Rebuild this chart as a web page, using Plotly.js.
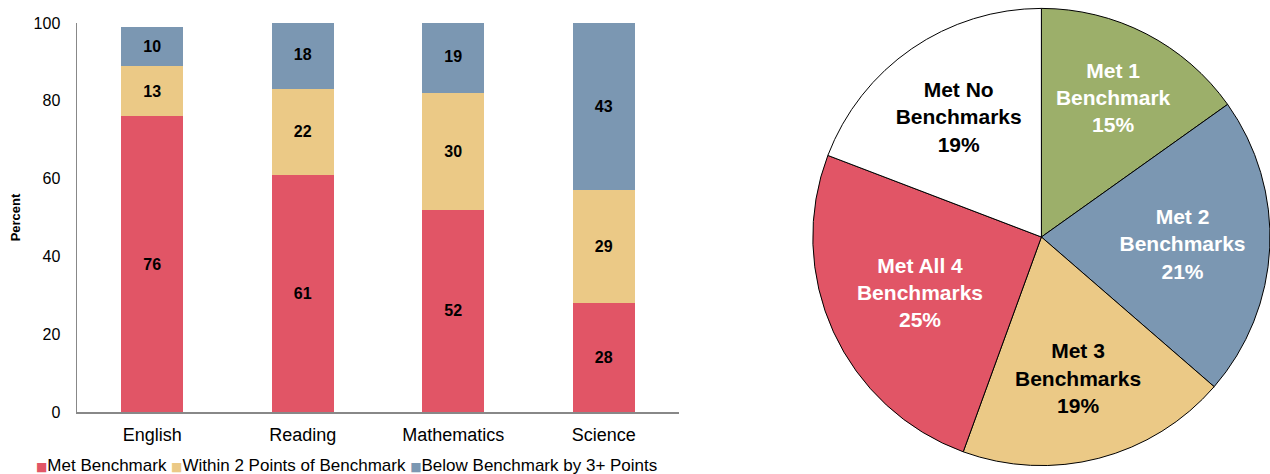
<!DOCTYPE html>
<html><head><meta charset="utf-8">
<script src="https://cdn.plot.ly/plotly-3.0.1.min.js"></script>
<style>html,body{margin:0;padding:0;background:#fff}#chart{width:1270px;height:474px}</style>
</head><body><div id="chart"></div>
<script>
const subjects = ['English', 'Reading', 'Mathematics', 'Science'];
const metBenchmark = [76, 61, 52, 28];
const within2 = [13, 22, 30, 29];
const below3 = [10, 18, 19, 43];
const seriesNames = ['Met Benchmark', 'Within 2 Points of Benchmark', 'Below Benchmark by 3+ Points'];

const pieLabels = ['Met 1<br>Benchmark', 'Met 2<br>Benchmarks', 'Met 3<br>Benchmarks', 'Met All 4<br>Benchmarks', 'Met No<br>Benchmarks'];
const pieValues = [15, 21, 19, 25, 19];

const RED = '#E15566', TAN = '#EBC986', BLUE = '#7B97B2', GREEN = '#9CAF6A';
const seriesColors = [RED, TAN, BLUE];
const FONT = 'Liberation Sans, Arial, Helvetica, sans-serif';

function barTrace(vals, name, color) {
  return {
    type: 'bar', x: subjects, y: vals, name: name,
    marker: {color: color, line: {width: 0}},
    text: vals.map(String), textposition: 'inside', insidetextanchor: 'middle',
    textfont: {family: FONT, size: 16, color: '#000', weight: 'bold'},
    textangle: 0, constraintext: 'none', hoverinfo: 'none', showlegend: false
  };
}

const data = [
  barTrace(metBenchmark, seriesNames[0], RED),
  barTrace(within2, seriesNames[1], TAN),
  barTrace(below3, seriesNames[2], BLUE),
  {
    type: 'pie', values: pieValues, text: pieLabels, textinfo: 'text',
    texttemplate: '%{text}<br>%{value}%',
    sort: false, direction: 'clockwise', rotation: 0,
    marker: {colors: [GREEN, BLUE, TAN, RED, '#FFFFFF'], line: {color: '#000', width: 1}},
    textposition: 'inside', insidetextorientation: 'horizontal',
    textfont: {family: FONT, size: 21, weight: 'bold', color: ['#fff', '#fff', '#000', '#fff', '#000']},
    domain: {x: [0.64, 1], y: [0, 1]},
    showlegend: false, hoverinfo: 'none'
  }
];

const legendText = seriesNames.map((n, i) =>
  '<span style="color:' + seriesColors[i] + ';font-size:12px;font-family:DejaVu Sans">■</span>' + n
).join(' ');

const layout = {
  width: 1270, height: 474,
  margin: {l: 0, r: 0, t: 0, b: 0},
  paper_bgcolor: '#fff', plot_bgcolor: '#fff',
  font: {family: FONT, size: 16, color: '#000'},
  barmode: 'stack', bargap: 0.59,
  xaxis: {
    domain: [77/1270, 679/1270], showline: true, linecolor: '#888', linewidth: 1.5,
    ticks: 'outside', ticklen: 6, tickcolor: 'rgba(0,0,0,0)',
    showgrid: false, zeroline: false, tickfont: {size: 18}
  },
  yaxis: {
    domain: [(474-412)/474, (474-23)/474], range: [0, 100], dtick: 20,
    showline: true, linecolor: '#888', linewidth: 1.5,
    ticks: 'outside', ticklen: 12, tickcolor: 'rgba(0,0,0,0)',
    showgrid: false, zeroline: false, tickfont: {size: 16},
    title: {text: 'Percent', font: {size: 13, weight: 'bold'}, standoff: 10}
  },
  showlegend: false,
  annotations: [{
    xref: 'paper', yref: 'paper', x: 34/1270, y: 9/474, xanchor: 'left', yanchor: 'middle',
    showarrow: false, text: legendText, font: {size: 17, color: '#000', family: FONT}
  }]
};

Plotly.newPlot('chart', data, layout, {staticPlot: true, displayModeBar: false});
</script></body></html>
